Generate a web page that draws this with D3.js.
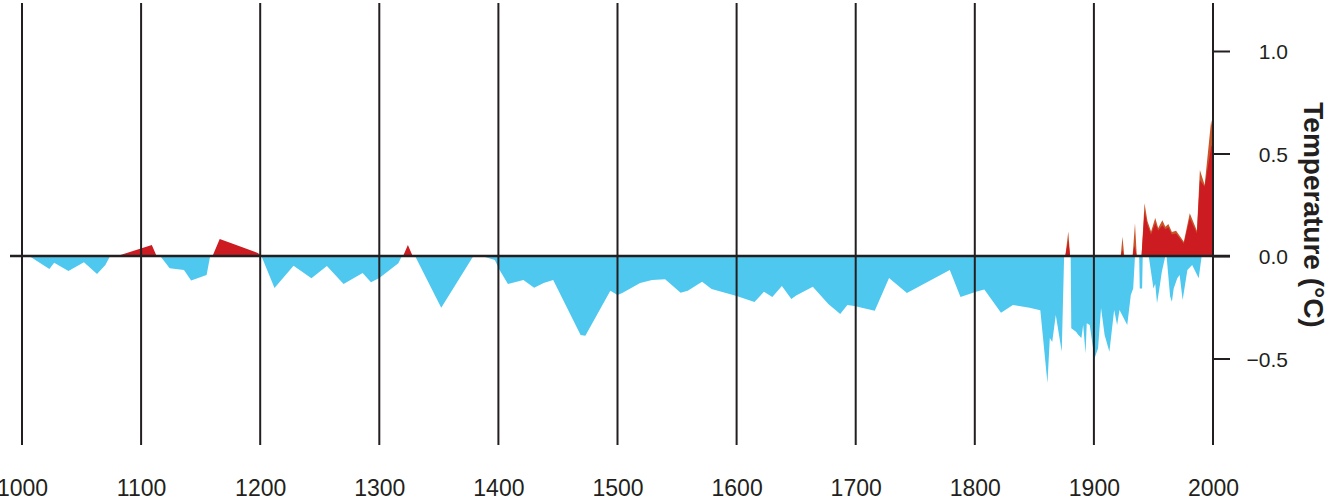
<!DOCTYPE html>
<html><head><meta charset="utf-8">
<script src="https://cdn.jsdelivr.net/npm/d3@7"></script>
<style>
html,body{margin:0;padding:0;background:#fff;overflow:hidden;}
svg{display:block;}
text{font-family:"Liberation Sans",Arial,Helvetica,sans-serif;fill:#231f20;}
</style></head><body>
<svg id="chart" width="1326" height="501"></svg>
<script>
// ---- data (year, temperature anomaly °C) ----
const xTicks = [1000,1100,1200,1300,1400,1500,1600,1700,1800,1900,2000];
const yTicks = [1.0,0.5,0.0,-0.5];
const yTickLabels = ["1.0","0.5","0.0","\u22120.5"];
const axisTitle = "Temperature (\u00B0C)";

// cool anomalies (blue, below zero)
const coolPoints = [
 [1006,0],[1023,-0.063],[1027,-0.033],[1039,-0.073],[1052,-0.030],[1063,-0.088],[1070,-0.044],[1074,0],
 [1116,0],[1124,-0.060],[1136,-0.068],[1142,-0.120],[1155,-0.093],[1158,0],
 [1201,0],[1212,-0.156],[1228,-0.047],[1243,-0.108],[1256,-0.049],[1270,-0.137],[1286,-0.083],[1293,-0.128],[1300,-0.107],[1316,-0.035],[1319,0],
 [1330,0],[1352,-0.252],[1379,0],
 [1386,0],[1397,-0.020],[1401,-0.068],[1408,-0.137],[1421,-0.117],[1430,-0.155],[1438,-0.132],[1446,-0.117],[1469,-0.385],[1473,-0.389],
 [1494,-0.169],[1500,-0.190],[1504,-0.180],[1519,-0.132],[1529,-0.117],[1540,-0.113],[1553,-0.179],[1559,-0.169],[1571,-0.125],[1579,-0.161],
 [1600,-0.195],[1615,-0.224],[1623,-0.174],[1630,-0.200],[1638,-0.146],[1646,-0.210],[1650,-0.193],[1664,-0.150],[1677,-0.234],[1687,-0.283],
 [1693,-0.239],[1699,-0.244],[1706,-0.254],[1716,-0.267],[1728,-0.107],[1743,-0.180],[1779,-0.068],[1788,-0.200],[1801,-0.174],[1808,-0.163],
 [1822,-0.277],[1832,-0.239],[1846,-0.252],[1855,-0.265],[1861,-0.620],[1863,-0.400],[1865,-0.420],[1868,-0.288],[1873,-0.467],[1875,0],
 [1880.5,0],[1881,-0.353],[1885,-0.370],[1887,-0.385],[1889.5,-0.400],[1891,-0.337],[1893,-0.475],[1894,-0.328],[1896.5,-0.337],[1900.5,-0.500],
 [1903.5,-0.450],[1906,-0.254],[1909,-0.385],[1913,-0.467],[1917,-0.263],[1919.5,-0.337],[1921.5,-0.263],[1928,-0.337],[1931,-0.190],[1933,-0.158],[1934.5,0],
 [1938,0],[1938.5,-0.158],[1940.5,-0.158],[1941,0],
 [1946,0],[1950,-0.158],[1951.5,-0.135],[1953,-0.230],[1955,-0.158],[1957,-0.078],[1960,0],
 [1961,0],[1964,-0.198],[1965.5,-0.223],[1967,-0.158],[1970,-0.109],[1972,-0.093],[1974.5,-0.215],[1976.5,-0.142],[1978.5,-0.068],[1982.5,-0.044],[1988,-0.109],[1990.5,0]
];

// warm anomalies (red, above zero)
const warmPoints = [
 [1080,0],[1109,0.054],[1113,0],
 [1160,0],[1166,0.083],[1177,0.060],[1198,0.015],[1201,0],
 [1320,0],[1324,0.054],[1328,0],
 [1876,0],[1878.5,0.078],[1880,0],
 [1922.5,0],[1924,0.030],[1925,0],
 [1932.5,0],[1934,0.050],[1936,0],
 [1940,0],[1942.5,0.216],[1945,0.150],[1948,0.105],[1951.5,0.160],[1954,0.125],[1957.5,0.150],[1960,0.130],[1962.5,0.140],
 [1965.5,0.105],[1969,0.110],[1975.5,0.060],[1980.5,0.184],[1986.5,0.110],[1989,0.370],[1993,0.338],[1998.5,0.533],[2000,0.550]
];

// upper warm envelope (orange edge)
const warmEdgePoints = [
 [1876,0],[1878.5,0.120],[1880,0],
 [1922.5,0],[1924,0.094],[1925.5,0],
 [1932.5,0],[1934.5,0.160],[1936,0],
 [1940,0],[1942.5,0.257],[1945,0.170],[1948,0.120],[1951.5,0.185],[1954,0.136],[1957.5,0.175],[1960,0.143],[1962.5,0.156],
 [1965.5,0.117],[1969,0.123],[1975.5,0.070],[1980.5,0.208],[1986.5,0.123],[1989,0.420],[1993,0.346],[1998.5,0.663],[2000,0.600]
];

// ---- drawing ----
const svg = d3.select("#chart");
const x = d3.scaleLinear().domain([1000,2000]).range([22,1213]);
const y = d3.scaleLinear().domain([-0.5,1.0]).range([358.5,51]);
const gridTop = 3, gridBottom = 445;
const ink = "#231f20";

const area = d3.area().x(d=>x(d[0])).y0(y(0)).y1(d=>y(d[1]));

svg.append("path").datum(warmEdgePoints).attr("d",area).attr("fill","#c9562b");
svg.append("path").datum(warmPoints).attr("d",area).attr("fill","#cc1b21");
svg.append("path").datum(coolPoints).attr("d",area).attr("fill","#4fc8ef");

// vertical century lines
svg.append("g").selectAll("line").data(xTicks).join("line")
  .attr("x1",d=>x(d)).attr("x2",d=>x(d))
  .attr("y1",gridTop).attr("y2",gridBottom)
  .attr("stroke",ink).attr("stroke-width",2);

// zero line
svg.append("line").attr("x1",10).attr("x2",1230)
  .attr("y1",y(0)).attr("y2",y(0)).attr("stroke",ink).attr("stroke-width",2.4);

// right axis
const rAxis = d3.axisRight(y).tickValues(yTicks).tickSize(17).tickPadding(0)
  .tickFormat((d,i)=>yTickLabels[i]);
const ga = svg.append("g").attr("transform",`translate(${x(2000)},0)`).call(rAxis);
ga.select(".domain").remove();
ga.selectAll(".tick line").attr("stroke",ink).attr("stroke-width",2);
ga.selectAll(".tick text").attr("x",75).attr("text-anchor","end")
  .attr("dy","0.36em").style("font-size","21px").style("fill","#231f20");
svg.append("line").attr("x1",x(2000)).attr("x2",x(2000))
  .attr("y1",gridTop).attr("y2",gridBottom).attr("stroke",ink).attr("stroke-width",2);

// bottom labels
const bAxis = d3.axisBottom(x).tickValues(xTicks).tickSize(0).tickPadding(0).tickFormat(d3.format("d"));
const gb = svg.append("g").attr("transform","translate(0,480)").call(bAxis);
gb.select(".domain").remove();
gb.selectAll(".tick text").attr("y",0).attr("dy","0.71em")
  .style("font-size","23px").style("fill","#231f20");

// axis title
svg.append("text").attr("transform","translate(1304,215) rotate(90)")
  .attr("text-anchor","middle").style("font-size","28px").style("font-weight","bold")
  .text(axisTitle);
</script>
</body></html>
